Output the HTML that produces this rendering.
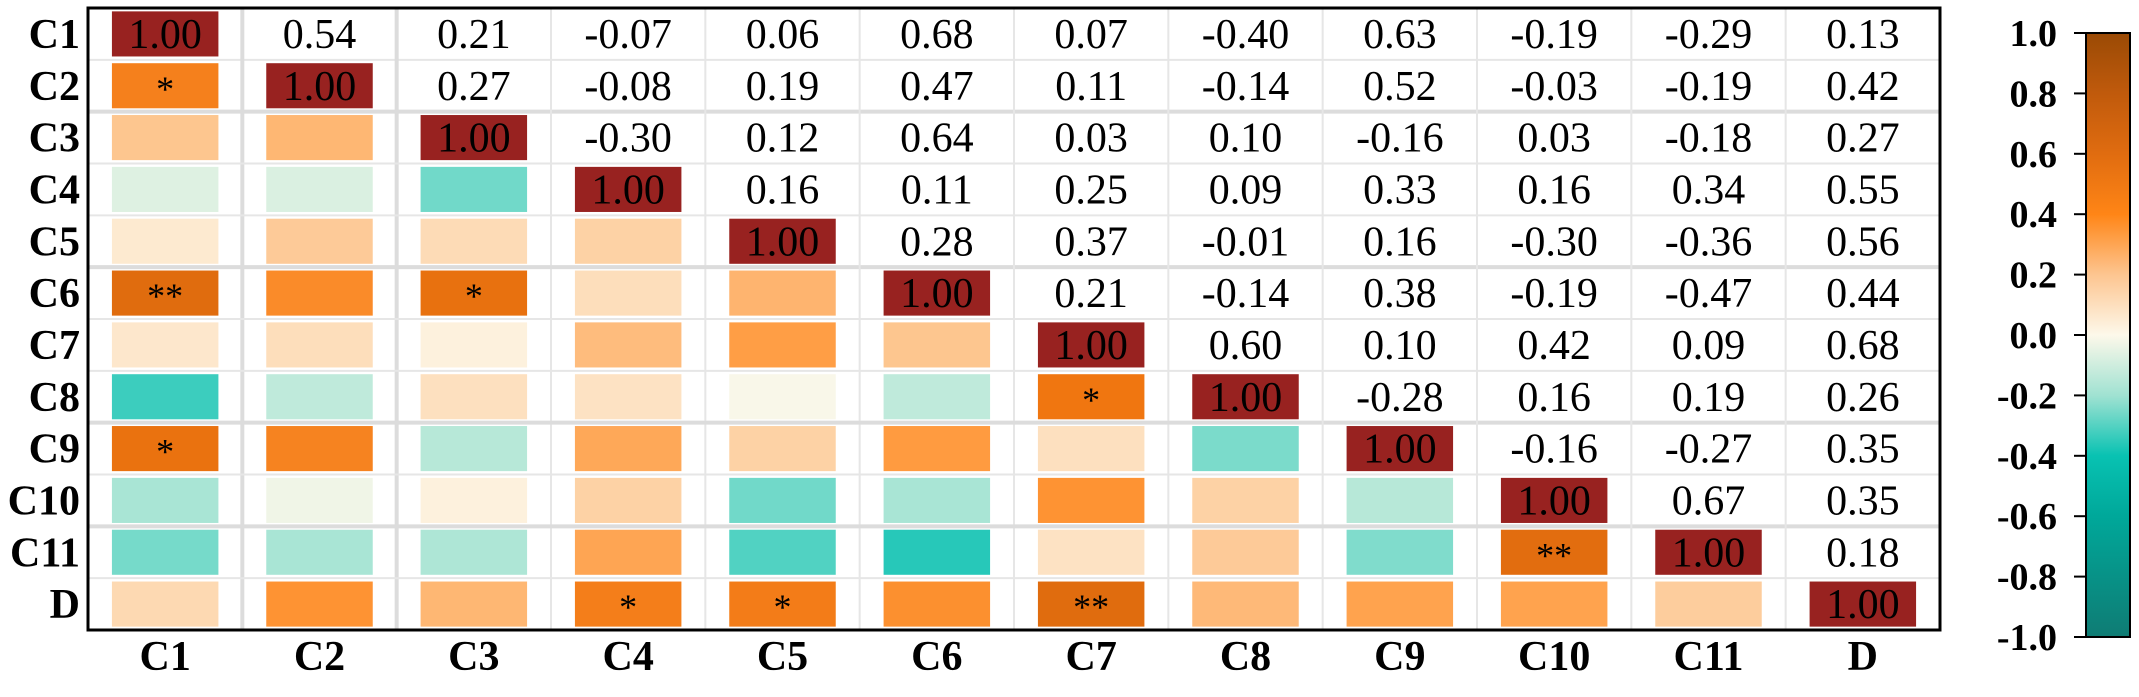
<!DOCTYPE html>
<html><head><meta charset="utf-8"><style>
html,body{margin:0;padding:0;background:#fff;}
svg, svg text{font-family:"Liberation Serif","DejaVu Serif",serif;}
</style></head><body>
<svg id="chart" width="2139" height="692" viewBox="0 0 2139 692" xmlns="http://www.w3.org/2000/svg" font-family="Liberation Serif, serif">
<defs><linearGradient id="cbar" x1="0" y1="0" x2="0" y2="1">
<stop offset="0" stop-color="#9a4a05"/><stop offset="0.1" stop-color="#c05a0c"/><stop offset="0.2" stop-color="#e06c10"/><stop offset="0.3" stop-color="#ff8516"/><stop offset="0.4" stop-color="#fdc590"/><stop offset="0.5" stop-color="#fdf8ea"/><stop offset="0.6" stop-color="#a0e2d2"/><stop offset="0.7" stop-color="#08c2b2"/><stop offset="0.8" stop-color="#00a89a"/><stop offset="1" stop-color="#0f7c74"/></linearGradient></defs>
<g id="grid"></g>
<g id="cells"></g>
<rect x="88" y="8" width="1852" height="622" fill="none" stroke="#000" stroke-width="3"/>
<g id="labels"></g>
<rect x="2086" y="33" width="44" height="604" fill="url(#cbar)" stroke="#000" stroke-width="2"/>
<g id="cbticks"></g>
</svg>
<script>
const categories=["C1","C2","C3","C4","C5","C6","C7","C8","C9","C10","C11","D"];
const upperRows=[
[1,.54,.21,-.07,.06,.68,.07,-.40,.63,-.19,-.29,.13],
[1,.27,-.08,.19,.47,.11,-.14,.52,-.03,-.19,.42],
[1,-.30,.12,.64,.03,.10,-.16,.03,-.18,.27],
[1,.16,.11,.25,.09,.33,.16,.34,.55],
[1,.28,.37,-.01,.16,-.30,-.36,.56],
[1,.21,-.14,.38,-.19,-.47,.44],
[1,.60,.10,.42,.09,.68],
[1,-.28,.16,.19,.26],
[1,-.16,-.27,.35],
[1,.67,.35],
[1,.18],
[1]];
const stars=[["C2","C1","*"],["C6","C1","**"],["C6","C3","*"],["C8","C7","*"],["C9","C1","*"],["C11","C10","**"],["D","C4","*"],["D","C5","*"],["D","C7","**"]];
const cbTicks=[1.0,0.8,0.6,0.4,0.2,0.0,-0.2,-0.4,-0.6,-0.8,-1.0];

const NS="http://www.w3.org/2000/svg";
const FF='"Liberation Serif", "DejaVu Serif", serif';
const X0=88,Y0=8,W=1852,H=622,n=categories.length,cw=W/n,rh=H/n;
const xc=j=>X0+cw*(j+0.5), yc=i=>Y0+rh*(i+0.5);
const cbY=v=>33+(1-v)/2*604;
function val(i,j){const a=Math.min(i,j),b=Math.max(i,j);return upperRows[a][b-a];}
const stops=[[-1,[15,124,116]],[-0.8,[0,150,138]],[-0.6,[0,190,176]],[-0.4,[60,205,190]],[-0.2,[165,228,212]],[0,[253,248,234]],[0.2,[253,200,148]],[0.4,[255,150,55]],[0.6,[240,118,16]],[0.8,[200,92,12]],[1,[152,34,32]]];
function color(v){for(let k=0;k<stops.length-1;k++){const [a,ca]=stops[k],[b,cb]=stops[k+1];if(v<=b){const t=(v-a)/(b-a);return "rgb("+ca.map((c,m)=>Math.round(c+(cb[m]-c)*t)).join(",")+")";}}return "rgb(152,34,32)";}
function mk(tag,attrs,parent){const e=document.createElementNS(NS,tag);for(const k in attrs)e.setAttribute(k,attrs[k]);if(tag==='text'){e.setAttribute('font-family',FF);e.style.fontFamily=FF;}parent.appendChild(e);return e;}
const grid=document.getElementById('grid'),cells=document.getElementById('cells'),labels=document.getElementById('labels'),cbt=document.getElementById('cbticks');
const thickR=[2,5,8,10],thickC=[1,2];
for(let k=1;k<n;k++){
 let l=mk('line',{x1:X0,x2:X0+W,y1:Y0+rh*k,y2:Y0+rh*k,stroke:thickR.includes(k)?'#dcdcdc':'#e6e6e6','stroke-width':thickR.includes(k)?4:2},grid);
 
 
 let c=mk('line',{y1:Y0,y2:Y0+H,x1:X0+cw*k,x2:X0+cw*k,stroke:thickC.includes(k)?'#dcdcdc':'#e6e6e6','stroke-width':thickC.includes(k)?4:2},grid);
 
 
}
const rw=cw*0.69,rhh=rh*0.87;
for(let i=0;i<n;i++)for(let j=0;j<n;j++){
 const v=val(i,j);
 if(i>=j){
  const r=mk('rect',{x:xc(j)-rw/2,y:yc(i)-rhh/2,width:rw,height:rhh,fill:i===j?'#982220':color(v)},cells);
  
  
 }
 let txt=null;
 if(i===j) txt="1.00";
 else if(i<j) txt=v.toFixed(2);
 else {const s=stars.find(s=>s[0]===categories[i]&&s[1]===categories[j]); if(s) txt=s[2];}
 if(txt){
  const t=mk('text',{x:xc(j),y:yc(i)+(i>j?15:14),'text-anchor':'middle','font-size':i>j?36:42,fill:'#000'},cells);
  t.textContent=txt;
  
  
 }
}
categories.forEach((c,k)=>{
 const t=mk('text',{x:80,y:yc(k)+14,'text-anchor':'end','font-size':42,'font-weight':'bold'},labels);
 t.textContent=c;
 
 
 const u=mk('text',{x:xc(k),y:670,'text-anchor':'middle','font-size':42,'font-weight':'bold'},labels);
 u.textContent=c;
 
 
});
cbTicks.forEach(v=>{
 const l=mk('line',{x1:2074,x2:2086,y1:cbY(v),y2:cbY(v),stroke:'#000','stroke-width':2},cbt);
 
 
 const t=mk('text',{x:2057,y:cbY(v)+13,'text-anchor':'end','font-size':38,'font-weight':'bold'},cbt);
 t.textContent=v.toFixed(1);
 
 
});
</script>
</body></html>
